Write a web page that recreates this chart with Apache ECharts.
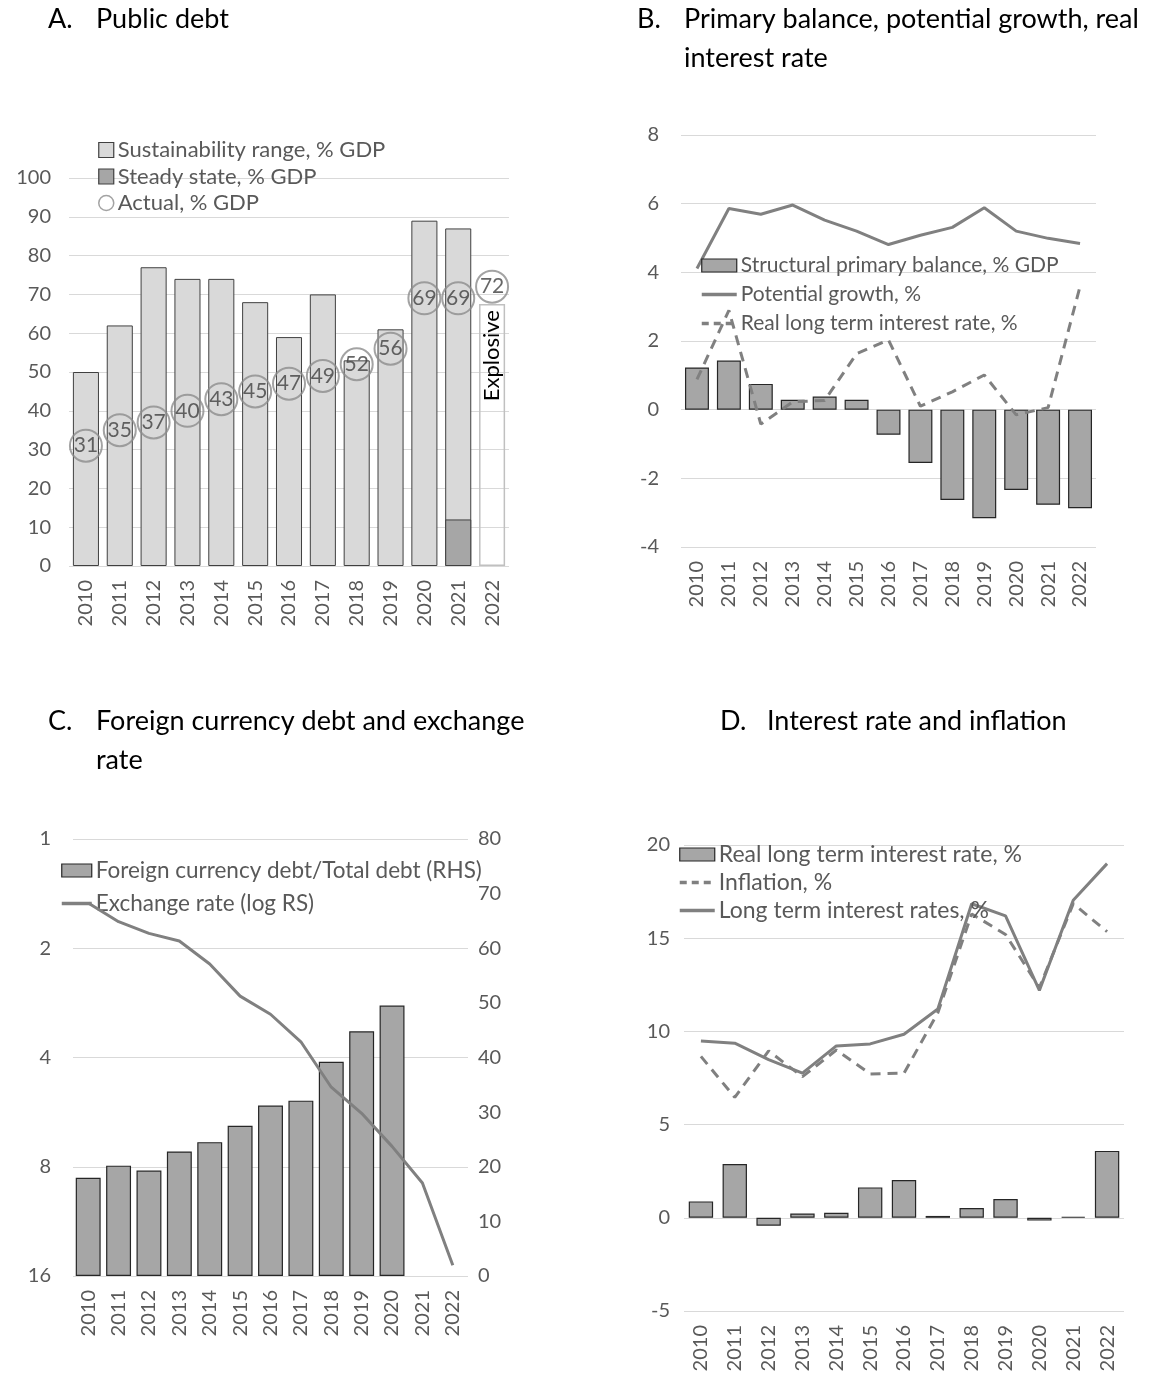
<!DOCTYPE html>
<html lang="en">
<head>
<meta charset="UTF-8">
<title>Public debt panels</title>
<script src="https://cdn.jsdelivr.net/npm/echarts@6/dist/echarts.min.js"></script>
<style>
  body { margin: 0; background: #fff; }
  .panel { position: absolute; width: 583px; height: 691px; }
</style>
</head>
<body>
<div id="pa" class="panel" style="left:0;top:0"></div>
<div id="pb" class="panel" style="left:583px;top:0"></div>
<div id="pc" class="panel" style="left:0;top:691px"></div>
<div id="pd" class="panel" style="left:583px;top:691px"></div>

<script>
var years = ['2010','2011','2012','2013','2014','2015','2016','2017','2018','2019','2020','2021','2022'];

// A. public debt
var sustainRange = [50, 62, 77, 74, 74, 68, 59, 70, 53, 61, 89, 87, '-'];
var steadyState  = ['-','-','-','-','-','-','-','-','-','-','-', 12, '-'];
var explosive    = ['-','-','-','-','-','-','-','-','-','-','-','-', 67.5];
var actualDebt   = [31, 35, 37, 40, 43, 45, 47, 49, 52, 56, 69, 69, 72];

// B. primary balance, growth, real rate
var primaryBalance  = [1.23, 1.43, 0.75, 0.29, 0.38, 0.29, -0.73, -1.55, -2.63, -3.16, -2.34, -2.77, -2.87];
var potentialGrowth = [4.11, 5.86, 5.69, 5.96, 5.52, 5.2, 4.81, 5.08, 5.31, 5.88, 5.2, 4.99, 4.84];
var realRate        = [0.88, 2.89, -0.42, 0.23, 0.27, 1.63, 2.03, 0.1, 0.52, 1.01, -0.15, 0.06, 3.59];

// C. foreign currency debt, exchange rate
var fxDebtShare  = [18, 20.2, 19.3, 22.8, 24.5, 27.5, 31.2, 32.1, 39.2, 44.8, 49.5, '-', '-'];
var exchangeRate = [1.5, 1.69, 1.82, 1.91, 2.21, 2.71, 3.04, 3.62, 4.83, 5.7, 7.03, 8.87, 14.95];
var logTicks = [1, 2, 4, 8, 16];

// D. interest rate and inflation
var inflation = [8.66, 6.46, 8.95, 7.57, 9.0, 7.72, 7.76, 11.0, 16.3, 15.2, 12.35, 16.85, 15.35];
var longRate  = [9.48, 9.37, 8.49, 7.76, 9.22, 9.33, 9.85, 11.2, 16.85, 16.2, 12.2, 17.04, 19.0];

var FONT = 'Lato, "Open Sans", sans-serif';
var TICK = '#595959';
var GRID = '#d9d9d9';
var LINE = '#808080';
var BAR = '#a6a6a6';
var DASH = [10, 7];

// legend entries for lines: hide the symbol, keep a thick line
function lineItem(name, dashed) {
  return {
    name: name,
    itemStyle: { color: 'rgba(0,0,0,0)', borderWidth: 0 },
    lineStyle: { color: LINE, width: 3.5, type: dashed ? [7, 5] : 'solid' }
  };
}
function barItem(name, fill, edge) {
  return { name: name, icon: 'rect', itemStyle: { color: fill, borderColor: edge, borderWidth: 1.2 } };
}

function titles(letter, letterX, text, textX, top) {
  var ts = { fontFamily: FONT, fontSize: 27, fontWeight: 'normal', color: '#000', lineHeight: 39 };
  return [
    { text: letter, left: letterX, top: top, padding: 0, textStyle: ts },
    { text: text, left: textX, top: top, padding: 0, textStyle: ts }
  ];
}

function xCat(margin) {
  return {
    type: 'category', data: years,
    axisLine: { show: false, onZero: false },
    axisTick: { show: false },
    axisLabel: { rotate: 90, margin: margin, color: TICK, fontSize: 20, fontFamily: FONT }
  };
}

function yVal(min, max, step, margin) {
  return {
    type: 'value', min: min, max: max, interval: step,
    axisLine: { show: false }, axisTick: { show: false },
    splitLine: { lineStyle: { color: GRID, width: 1.2 } },
    axisLabel: { margin: margin, color: TICK, fontSize: 20, fontFamily: FONT }
  };
}

function legendBox(left, top, gap, w, h, size, data) {
  return {
    orient: 'vertical', left: left, top: top, itemGap: gap,
    itemWidth: w, itemHeight: h, selectedMode: false, padding: 0,
    lineStyle: { width: 3.5 },
    textStyle: { color: TICK, fontSize: size, fontFamily: FONT, padding: [0, 0, 0, -1] },
    data: data
  };
}

// ---------- A ----------
var chartA = echarts.init(document.getElementById('pa'));
chartA.setOption({
  animation: false,
  title: titles('A.', 48, 'Public debt', 96, 0),
  grid: { left: 69, top: 178, width: 440, height: 388 },
  legend: legendBox(98, 139, 4.5, 15, 15, 22, [
    barItem('Sustainability range, % GDP', '#d9d9d9', '#404040'),
    barItem('Steady state, % GDP', BAR, '#404040'),
    { name: 'Actual, % GDP', icon: 'circle', itemStyle: { color: '#fff', borderColor: '#8c8c8c', borderWidth: 1.5 } }
  ]),
  xAxis: xCat(14),
  yAxis: yVal(0, 100, 10, 18),
  series: [
    {
      name: 'Sustainability range, % GDP', type: 'bar', data: sustainRange,
      barCategoryGap: '23%', barGap: '-100%',
      itemStyle: { color: '#d9d9d9', borderColor: '#404040', borderWidth: 1 }
    },
    {
      name: 'Steady state, % GDP', type: 'bar', data: steadyState,
      barCategoryGap: '23%', barGap: '-100%',
      itemStyle: { color: BAR, borderColor: '#404040', borderWidth: 1 }
    },
    {
      name: 'Explosive', type: 'bar', data: explosive,
      barCategoryGap: '23%', barGap: '-100%',
      itemStyle: { color: 'rgba(255,255,255,0)', borderColor: '#c0c0c0', borderWidth: 1.5 },
      label: {
        show: true, formatter: 'Explosive', position: 'insideTop', distance: 6,
        rotate: 90, align: 'right', verticalAlign: 'middle',
        color: '#000', fontSize: 22, fontFamily: FONT
      }
    },
    {
      name: 'Actual, % GDP', type: 'scatter', data: actualDebt,
      symbol: 'circle', symbolSize: 32, z: 5,
      itemStyle: { color: 'rgba(255,255,255,0)', borderColor: '#8c8c8c', borderWidth: 2 },
      label: { show: true, position: 'inside', color: '#404040', fontSize: 21, fontFamily: FONT }
    }
  ]
});

// ---------- B ----------
var chartB = echarts.init(document.getElementById('pb'));
chartB.setOption({
  animation: false,
  title: titles('B.', 54, 'Primary balance, potential growth, real\ninterest rate', 101, 0),
  grid: { left: 98, top: 135, width: 415, height: 412 },
  legend: legendBox(117, 255, 8, 35, 13, 21, [
    barItem('Structural primary balance, % GDP', BAR, '#262626'),
    lineItem('Potential growth, %', false),
    lineItem('Real long term interest rate, %', true)
  ]),
  xAxis: xCat(14),
  yAxis: yVal(-4, 8, 2, 22),
  series: [
    {
      name: 'Structural primary balance, % GDP', type: 'bar', data: primaryBalance,
      barCategoryGap: '25%',
      itemStyle: { color: BAR, borderColor: '#262626', borderWidth: 1.2 }
    },
    {
      name: 'Potential growth, %', type: 'line', data: potentialGrowth,
      symbol: 'none', lineStyle: { color: LINE, width: 3 }, itemStyle: { color: LINE }
    },
    {
      name: 'Real long term interest rate, %', type: 'line', data: realRate,
      symbol: 'none', lineStyle: { color: LINE, width: 3, type: DASH }, itemStyle: { color: LINE }
    }
  ]
});

// ---------- C ----------
var chartC = echarts.init(document.getElementById('pc'));
chartC.setOption({
  animation: false,
  title: titles('C.', 48, 'Foreign currency debt and exchange\nrate', 96, 11),
  grid: { left: 73, top: 148, width: 395, height: 437 },
  legend: legendBox(60, 168, 10, 30, 13, 22.5, [
    barItem('Foreign currency debt/Total debt (RHS)', BAR, '#262626'),
    lineItem('Exchange rate (log RS)', false)
  ]),
  xAxis: xCat(14),
  yAxis: [
    {
      type: 'log', logBase: 2, min: 1, max: 16, inverse: true,
      axisLine: { show: false }, axisTick: { show: false },
      splitLine: { lineStyle: { color: GRID, width: 1.2 } },
      axisLabel: {
        margin: 22, color: TICK, fontSize: 20, fontFamily: FONT,
        customValues: logTicks
      }
    },
    {
      type: 'value', min: 0, max: 80, interval: 10, position: 'right',
      axisLine: { show: false }, axisTick: { show: false },
      splitLine: { show: false },
      axisLabel: { margin: 10, color: TICK, fontSize: 20, fontFamily: FONT }
    }
  ],
  series: [
    {
      name: 'Foreign currency debt/Total debt (RHS)', type: 'bar', yAxisIndex: 1, data: fxDebtShare,
      barCategoryGap: '18%',
      itemStyle: { color: BAR, borderColor: '#262626', borderWidth: 1.2 }
    },
    {
      name: 'Exchange rate (log RS)', type: 'line', yAxisIndex: 0, data: exchangeRate,
      symbol: 'none', z: 5, lineStyle: { color: LINE, width: 3 }, itemStyle: { color: LINE }
    }
  ]
});

// ---------- D ----------
var chartD = echarts.init(document.getElementById('pd'));
chartD.setOption({
  animation: false,
  title: titles('D.', 137, 'Interest rate and inflation', 184, 11),
  grid: { left: 101, top: 154, width: 440, height: 466 },
  legend: legendBox(95, 152, 5, 35, 13, 23, [
    barItem('Real long term interest rate, %', BAR, '#262626'),
    lineItem('Inflation, %', true),
    lineItem('Long term interest rates, %', false)
  ]),
  xAxis: xCat(14),
  yAxis: yVal(-5, 20, 5, 14),
  series: [
    {
      name: 'Real long term interest rate, %', type: 'bar', data: realRate,
      barCategoryGap: '28%',
      itemStyle: { color: BAR, borderColor: '#262626', borderWidth: 1.2 }
    },
    {
      name: 'Inflation, %', type: 'line', data: inflation,
      symbol: 'none', lineStyle: { color: LINE, width: 3, type: DASH }, itemStyle: { color: LINE }
    },
    {
      name: 'Long term interest rates, %', type: 'line', data: longRate,
      symbol: 'none', lineStyle: { color: LINE, width: 3 }, itemStyle: { color: LINE }
    }
  ]
});
</script>
</body>
</html>
